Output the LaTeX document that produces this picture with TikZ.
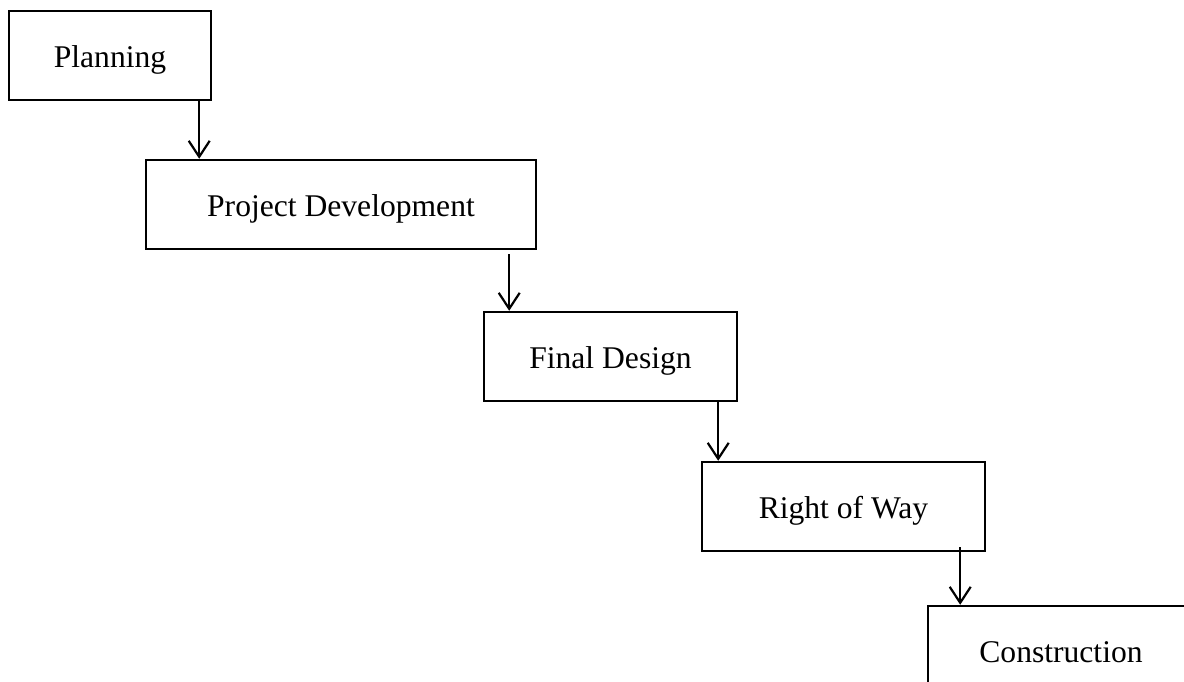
\documentclass[tikz,border=0pt]{standalone}
\usepackage{fontspec}
\setmainfont{Liberation Serif}
\usepackage{xcolor}
\usetikzlibrary{arrows.meta}
\tikzset{>={Straight Barb[length=8pt,width=10.5pt]}}
\tikzstyle{stage}=[draw,line width=1.2pt,minimum height=44.5pt,inner sep=0pt,
  text height=12pt,text depth=0pt,font=\fontsize{15.8}{19}\selectfont]
\tikzstyle{flow}=[->,line width=1.1pt]

\begin{document}
\begin{tikzpicture}[x=0.5pt,y=-0.5pt]
  \useasboundingbox (0,0) rectangle (1184,681);

  % STAGES
  \node[stage,minimum width=101pt] (plan)   at (110,55.5)    {Planning};
  \node[stage,minimum width=195pt] (devel)  at (341,204.5)   {Project Development};
  \node[stage,minimum width=126.5pt] (design) at (610.5,356.5) {Final Design};
  \node[stage,minimum width=141.5pt] (row)  at (843.5,506.5) {Right of Way};
  \node[stage,minimum width=133pt] (constr) at (1061,650.5)  {Construction};

  % ARROWS
  \draw[flow] ([xshift=-6.5pt]plan.south east) -- ([xshift=-6.5pt]plan.south east |- devel.north);
  \draw[flow] ([xshift=-14pt,yshift=-2pt]devel.south east) -- ([xshift=-14pt]devel.south east |- design.north);
  \draw[flow] ([xshift=-10pt]design.south east) -- ([xshift=-10pt]design.south east |- row.north);
  \draw[flow] ([xshift=-13pt,yshift=2.5pt]row.south east) -- ([xshift=-13pt]row.south east |- constr.north);
\end{tikzpicture}
\end{document}
